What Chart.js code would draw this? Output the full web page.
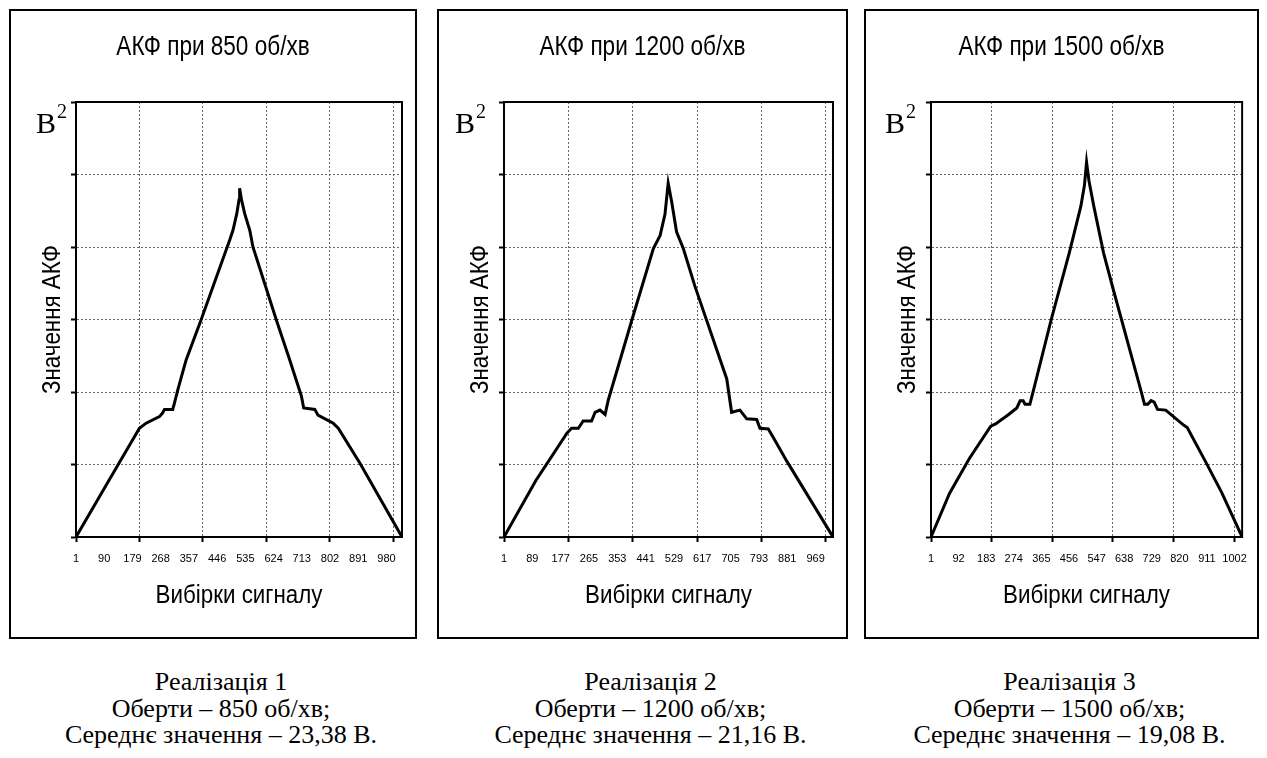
<!DOCTYPE html>
<html lang="uk">
<head>
<meta charset="utf-8">
<title>АКФ сигналу при різних обертах</title>
<script src="https://cdn.jsdelivr.net/npm/chart.js@4.4.1/dist/chart.umd.min.js"></script>
<style>
  html, body { margin: 0; padding: 0; background: #fff; }
  body { width: 1267px; height: 758px; position: relative; overflow: hidden; }
  .panel { position: absolute; box-sizing: border-box; border: 2px solid #000; background: #fff; }
  .panel canvas { display: block; }
  .caption {
    position: absolute; width: 440px; text-align: center; color: #000;
    font-family: "Liberation Serif", "Times New Roman", serif; font-size: 26px; line-height: 26.7px;
  }
</style>
</head>
<body>
<div class="panel" id="panel1"><canvas id="chart1"></canvas></div>
<div class="panel" id="panel2"><canvas id="chart2"></canvas></div>
<div class="panel" id="panel3"><canvas id="chart3"></canvas></div>
<div class="caption" id="caption1"></div>
<div class="caption" id="caption2"></div>
<div class="caption" id="caption3"></div>
<script>
// Vertices of each AKF curve: sample index and AKF value (V²)
const lag850 = [1, 106, 201, 222, 264, 274, 280, 306, 311, 322, 348, 395, 486, 496, 508, 515, 517, 523, 533, 549, 559, 633, 675, 712, 719, 754, 764, 812, 828, 896, 1029];
const acf850 = [0, 79, 150, 157, 166, 171, 176, 176, 184, 203, 244, 299, 410, 423, 446, 465, 481, 465, 446, 423, 400, 299, 244, 194, 178, 176, 168, 157, 150, 102, 0];

const lag1200 = [1, 100, 196, 211, 232, 247, 273, 284, 299, 315, 325, 398, 465, 486, 501, 511, 522, 537, 558, 594, 693, 708, 734, 755, 786, 796, 822, 838, 879, 1023];
const acf1200 = [0, 78, 143, 150, 150, 160, 160, 172, 175, 169, 189, 299, 398, 416, 445, 488, 462, 421, 398, 346, 218, 172, 175, 163, 162, 150, 149, 137, 105, 0];

const lag1500 = [1, 62, 127, 198, 214, 257, 284, 295, 305, 311, 327, 338, 397, 457, 495, 507, 514, 522, 538, 570, 603, 694, 705, 716, 727, 737, 748, 775, 835, 846, 905, 959, 1027];
const acf1500 = [0, 60, 108, 153, 156, 169, 178, 188, 188, 183, 183, 201, 299, 392, 456, 485, 517, 491, 456, 392, 340, 201, 183, 183, 188, 186, 176, 175, 154, 151, 105, 62, 0];

// Number of samples on each x axis
const samples850 = 1029;
const samples1200 = 1023;
const samples1500 = 1027;

// Sample-number labels under each axis
const xLabels850 = [1, 90, 179, 268, 357, 446, 535, 624, 713, 802, 891, 980];
const xLabels1200 = [1, 89, 177, 265, 353, 441, 529, 617, 705, 793, 881, 969];
const xLabels1500 = [1, 92, 183, 274, 365, 456, 547, 638, 729, 820, 911, 1002];

// Samples carrying a vertical grid line and a tick mark
const xGridSamples = [1, 201, 401, 601, 801, 1001];

// Value axis range and grid step (V²)
const acfMax = 600;
const acfStep = 100;

const chartTitles = ['АКФ при 850 об/хв', 'АКФ при 1200 об/хв', 'АКФ при 1500 об/хв'];
const xAxisTitle = 'Вибірки сигналу';
const yAxisTitle = 'Значення АКФ';

const captionLines = [
  ['Реалізація 1', 'Оберти – 850 об/хв;', 'Середнє значення – 23,38 В.'],
  ['Реалізація 2', 'Оберти – 1200 об/хв;', 'Середнє значення – 21,16 В.'],
  ['Реалізація 3', 'Оберти – 1500 об/хв;', 'Середнє значення – 19,08 В.']
];

const SANS = '"Liberation Sans", Arial, sans-serif';
const SERIF = '"Liberation Serif", "Times New Roman", serif';

// Page geometry of the three framed panels
const panelLayout = [
  { left: 9,   top: 9, width: 408, height: 630, sideGap: 13, unitX: 25 },
  { left: 437, top: 9, width: 411, height: 630, sideGap: 13, unitX: 16 },
  { left: 864, top: 9, width: 395, height: 630, sideGap: 9,  unitX: 19 }
];
const plotLeft = 65;      // chart area left edge inside the canvas
const plotTop = 91;       // chart area top edge inside the canvas
const xAxisHeight = 100;  // band under the chart area
const captionShift = 8;   // captions sit a little right of the panel centre

// Black frame round the plotting area
const plotFrame = {
  id: 'plotFrame',
  beforeDatasetsDraw(chart) {
    const { ctx, chartArea: a } = chart;
    ctx.save();
    ctx.strokeStyle = '#000';
    ctx.lineWidth = 2;
    ctx.strokeRect(a.left, a.top, a.right - a.left, a.bottom - a.top);
    ctx.restore();
  }
};

// Narrow sans text: natural glyphs squeezed horizontally by `squeeze`
function narrowText(ctx, text, x, y, size, squeeze, rotation) {
  ctx.save();
  ctx.translate(x, y);
  if (rotation) ctx.rotate(rotation);
  ctx.font = size + 'px ' + SANS;
  ctx.fillStyle = '#000';
  ctx.textAlign = 'center';
  ctx.textBaseline = 'middle';
  const w = ctx.measureText(text).width;
  ctx.fillText(text, 0, 0, w * squeeze);
  ctx.restore();
}

// Chart title, axis titles and the "В²" unit mark
const panelTexts = {
  id: 'panelTexts',
  afterDraw(chart, args, opts) {
    const { ctx, chartArea: a, width } = chart;
    narrowText(ctx, opts.title, width / 2, 36.5, 27.5, 0.82, 0);
    narrowText(ctx, xAxisTitle, (a.left + a.right) / 2, 585, 26, 0.86, 0);
    narrowText(ctx, yAxisTitle, 41.5, (a.top + a.bottom) / 2, 26, 0.86, -Math.PI / 2);

    ctx.save();
    ctx.fillStyle = '#000';
    ctx.textAlign = 'left';
    ctx.textBaseline = 'alphabetic';
    ctx.font = '30px ' + SERIF;
    ctx.fillText('В', opts.unitX, 122.3);
    const w = ctx.measureText('В').width;
    ctx.font = '20px ' + SERIF;
    ctx.fillText('2', opts.unitX + w + 1, 107);
    ctx.restore();
  }
};

function drawPanel(index, lag, acf, samples, labels) {
  const geo = panelLayout[index];
  const panel = document.getElementById('panel' + (index + 1));
  Object.assign(panel.style, {
    left: geo.left + 'px', top: geo.top + 'px', width: geo.width + 'px', height: geo.height + 'px'
  });
  const canvas = document.getElementById('chart' + (index + 1));
  canvas.width = geo.width - 4;
  canvas.height = geo.height - 4;

  const gridSet = new Set(xGridSamples);
  const labelSet = new Set(labels);
  const xTicks = Array.from(new Set([...labels, ...xGridSamples])).sort((a, b) => a - b);

  return new Chart(canvas, {
    type: 'line',
    data: {
      datasets: [{
        data: lag.map((x, i) => ({ x, y: acf[i] })),
        borderColor: '#000',
        borderWidth: 3,
        pointRadius: 0,
        tension: 0,
        fill: false
      }]
    },
    options: {
      responsive: false,
      animation: false,
      devicePixelRatio: 1,
      layout: { padding: { left: 0, right: geo.sideGap, top: plotTop, bottom: 0 } },
      plugins: {
        legend: { display: false },
        tooltip: { enabled: false },
        title: { display: false },
        panelTexts: { title: chartTitles[index], unitX: geo.unitX }
      },
      scales: {
        x: {
          type: 'linear',
          min: 1,
          max: samples,
          afterBuildTicks(scale) { scale.ticks = xTicks.map(v => ({ value: v })); },
          afterFit(scale) { scale.height = xAxisHeight; },
          ticks: {
            autoSkip: false,
            maxRotation: 0,
            minRotation: 0,
            padding: 10,
            color: '#000',
            font: { family: SANS, size: 11 },
            callback: v => (labelSet.has(v) ? String(v) : '')
          },
          grid: {
            color: c => (c.tick && gridSet.has(c.tick.value) ? '#666' : 'rgba(0,0,0,0)'),
            tickColor: c => (c.tick && gridSet.has(c.tick.value) ? '#000' : 'rgba(0,0,0,0)'),
            lineWidth: 1,
            tickLength: 5,
            tickWidth: 2
          },
          border: { color: '#000', width: 2, dash: [2, 2] },
          title: { display: false }
        },
        y: {
          min: 0,
          max: acfMax,
          afterFit(scale) { scale.width = plotLeft; },
          ticks: { display: false, stepSize: acfStep },
          grid: {
            color: '#666',
            lineWidth: 1,
            tickColor: '#000',
            tickLength: 5,
            tickWidth: 2
          },
          border: { color: '#000', width: 2, dash: [2, 2] },
          title: { display: false }
        }
      }
    },
    plugins: [plotFrame, panelTexts]
  });
}

drawPanel(0, lag850, acf850, samples850, xLabels850);
drawPanel(1, lag1200, acf1200, samples1200, xLabels1200);
drawPanel(2, lag1500, acf1500, samples1500, xLabels1500);

// Captions under the panels
captionLines.forEach((lines, i) => {
  const geo = panelLayout[i];
  const el = document.getElementById('caption' + (i + 1));
  const centre = geo.left + geo.width / 2 + captionShift;
  el.style.left = (centre - 220) + 'px';
  el.style.top = '669px';
  lines.forEach(t => {
    const row = document.createElement('div');
    row.textContent = t;
    el.appendChild(row);
  });
});
</script>
</body>
</html>
